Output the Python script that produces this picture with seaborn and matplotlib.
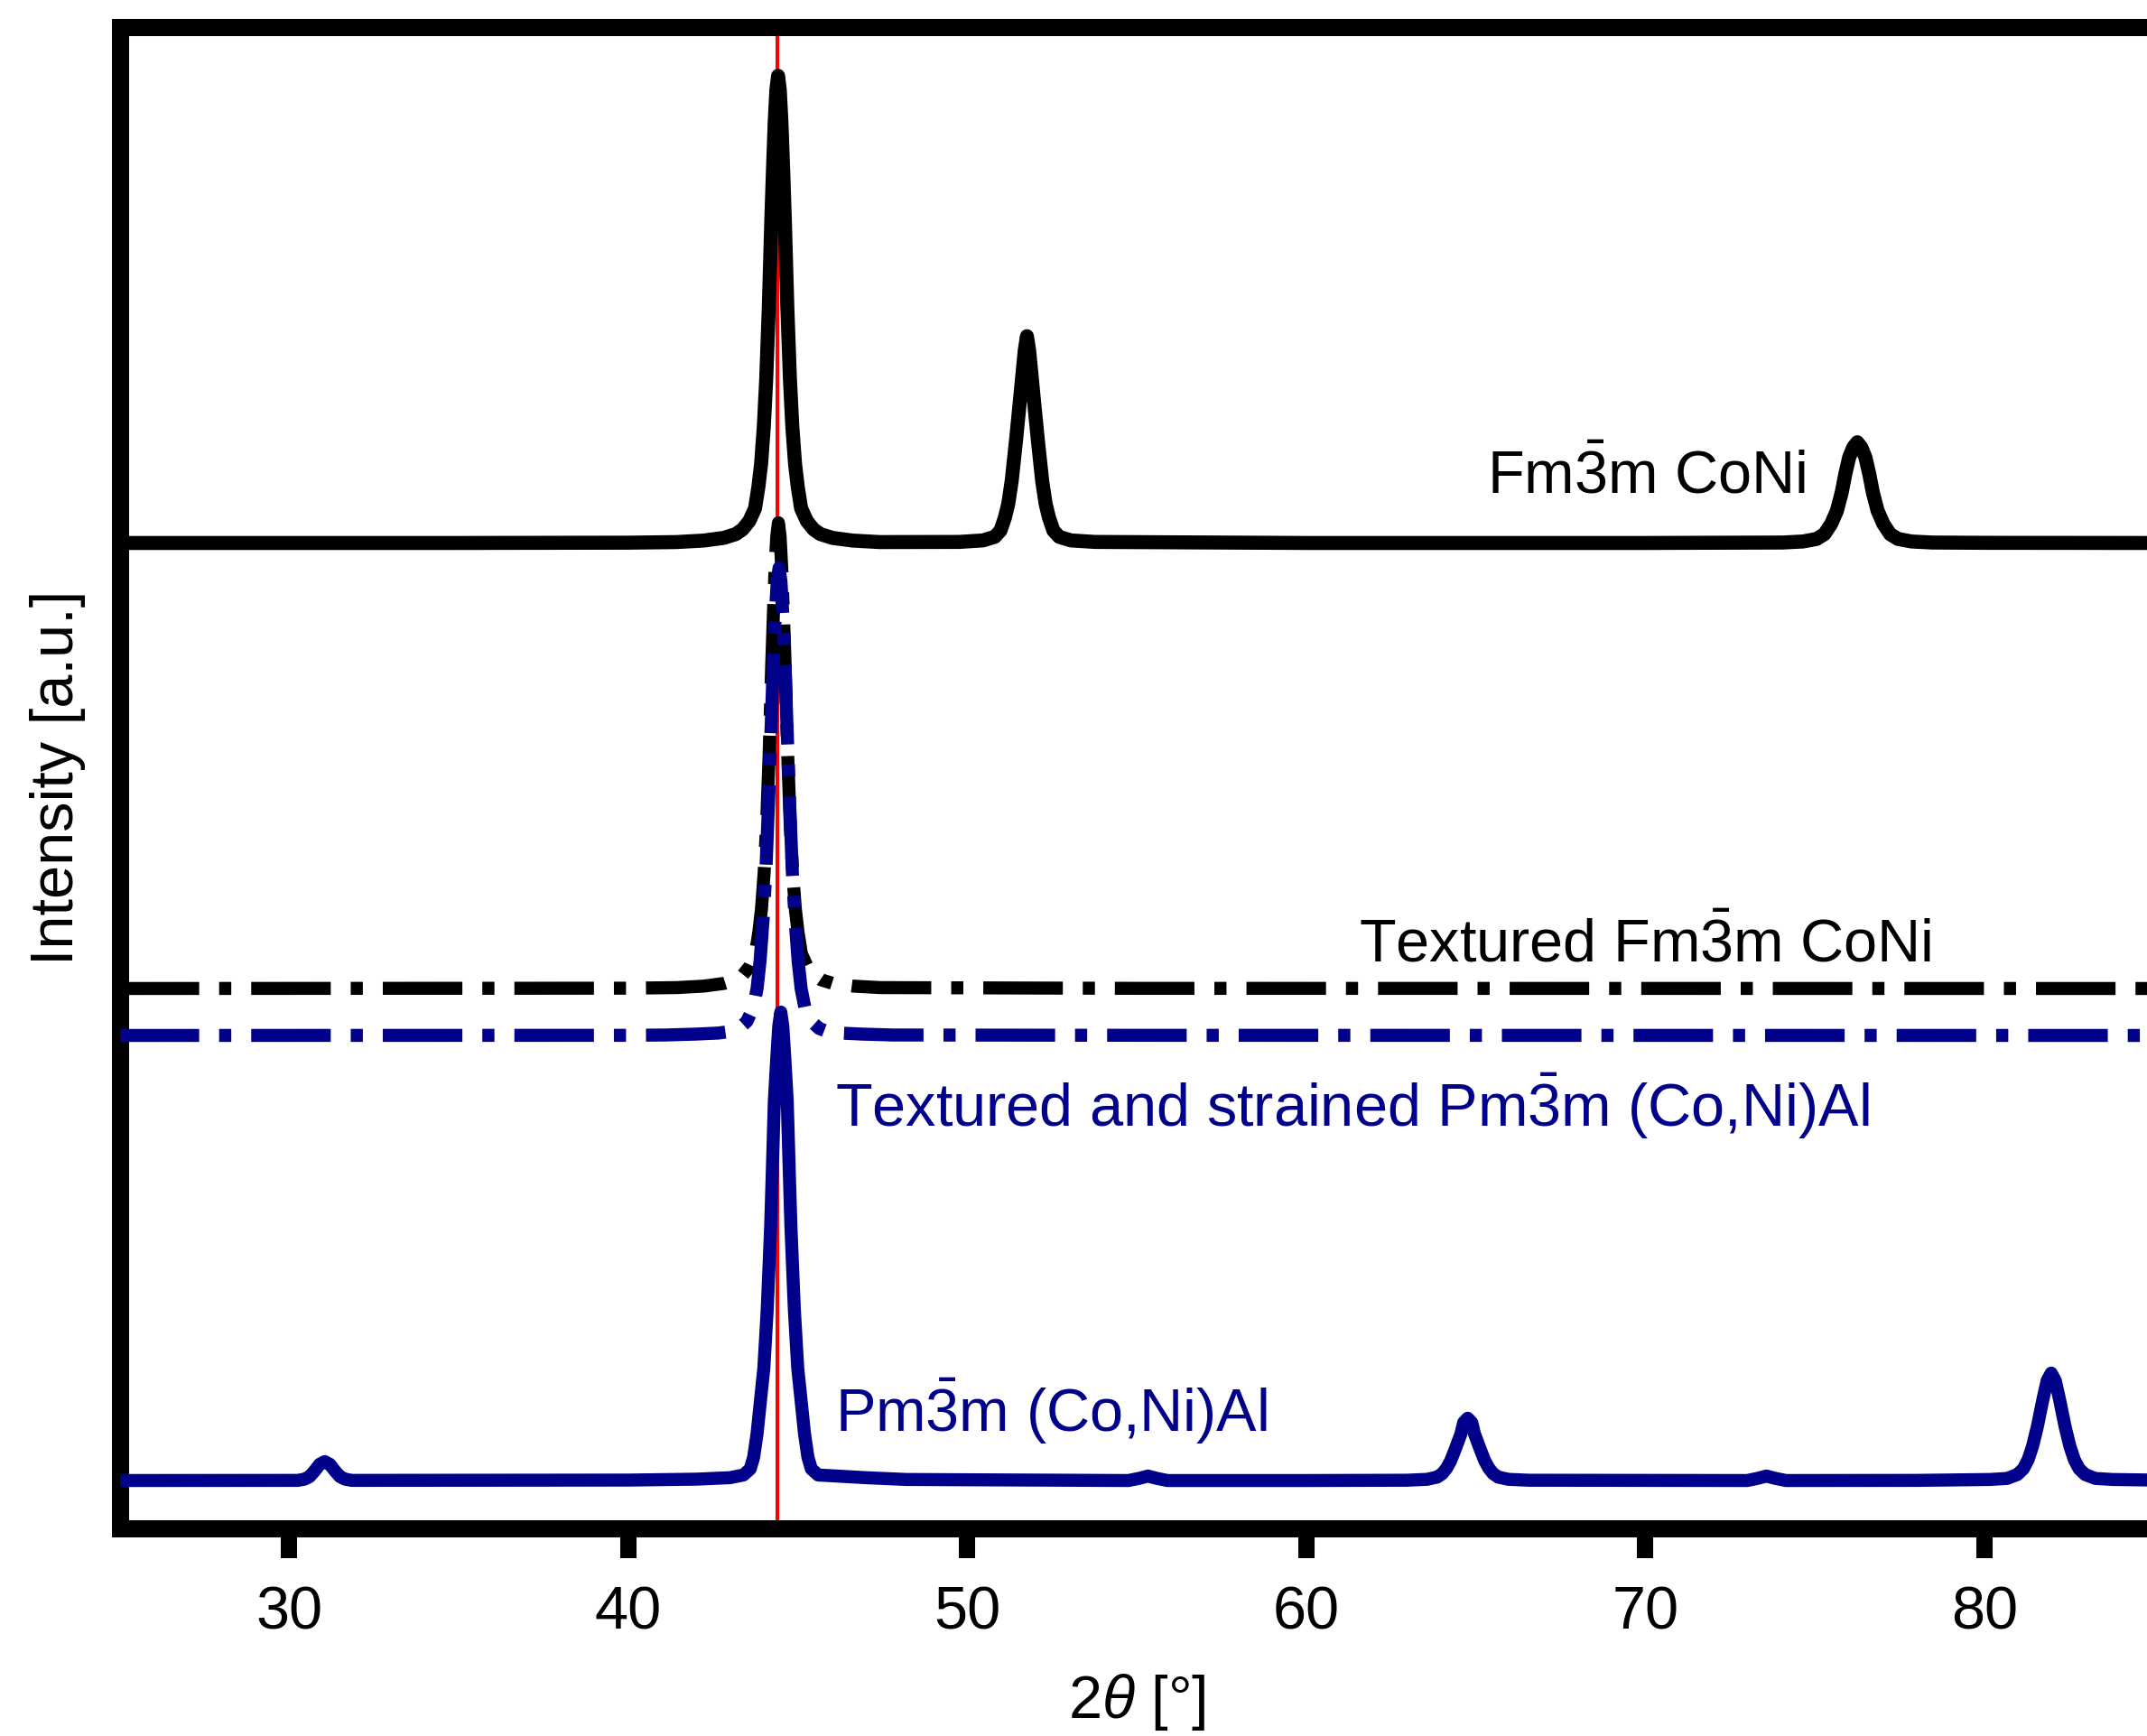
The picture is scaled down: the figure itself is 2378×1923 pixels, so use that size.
import matplotlib
matplotlib.use("Agg")
import matplotlib.pyplot as plt
import seaborn as sns

# ---- diffraction patterns: 2theta (deg) vs stacked intensity (a.u.) ----
# Fm-3m CoNi
coni_x = [25, 35, 40,
          41.42, 42.22, 42.82, 43.17, 43.37, 43.57, 43.74, 43.84, 43.92, 44.00, 44.07,
          44.145, 44.22, 44.27, 44.32, 44.37, 44.42, 44.47, 44.52, 44.57, 44.62, 44.695,
          44.77, 44.84, 44.92, 45.00, 45.10, 45.27, 45.47, 45.67, 46.02, 46.62, 47.42,
          49.76, 50.46, 50.81, 50.98, 51.11, 51.21, 51.31, 51.44, 51.56, 51.63, 51.695,
          51.76, 51.825, 51.89, 51.96, 52.08, 52.21, 52.31, 52.41, 52.54, 52.71, 53.06,
          53.76, 60, 70,
          74.05, 74.65, 75.05, 75.28, 75.48, 75.65, 75.79, 75.90, 76.01, 76.13, 76.25,
          76.37, 76.49, 76.60, 76.71, 76.85, 77.02, 77.22, 77.45, 77.85, 78.45,
          80, 85]
coni_y = [65.65, 65.65, 65.67,
          65.71, 65.81, 65.99, 66.24, 66.55, 67.11, 67.95, 69.39, 70.94, 73.43, 76.55,
          81.22, 87.13, 90.55, 93.67, 95.85, 96.78, 95.85, 93.67, 90.55, 87.13, 81.22,
          76.55, 73.43, 70.94, 69.39, 67.95, 67.11, 66.55, 66.24, 65.99, 65.81, 65.71,
          65.72, 65.82, 66.06, 66.48, 67.34, 68.27, 69.78, 72.54, 75.30, 76.95, 78.47,
          79.43, 78.47, 76.95, 75.30, 72.54, 69.78, 68.27, 67.34, 66.48, 66.06, 65.82,
          65.72, 65.65, 65.65,
          65.68, 65.75, 65.92, 66.24, 66.92, 67.80, 69.01, 70.28, 71.35, 72.02, 72.36,
          72.02, 71.35, 70.28, 69.01, 67.80, 66.92, 66.24, 65.92, 65.75, 65.68,
          65.66, 65.65]

# Textured Fm-3m CoNi
tex_coni_x = [25, 40,
              41.43, 42.23, 42.83, 43.18, 43.38, 43.58, 43.75, 43.85, 43.93, 44.01, 44.08,
              44.155, 44.23, 44.28, 44.33, 44.38, 44.43, 44.48, 44.53, 44.58, 44.63,
              44.705, 44.78, 44.85, 44.93, 45.01, 45.11, 45.28, 45.48, 45.68, 46.03,
              46.63, 47.43,
              55, 85]
tex_coni_y = [35.96, 35.98,
              36.02, 36.12, 36.30, 36.55, 36.86, 37.42, 38.26, 39.68, 41.24, 43.72, 46.82,
              51.48, 57.38, 60.79, 63.90, 66.07, 67.00, 66.07, 63.90, 60.79, 57.38,
              51.48, 46.82, 43.72, 41.24, 39.68, 38.26, 37.42, 36.86, 36.55, 36.30,
              36.12, 36.02,
              35.97, 35.96]

# Textured and strained Pm-3m (Co,Ni)Al
tex_cnal_x = [25, 40,
              41.09, 41.99, 42.66, 43.05, 43.27, 43.50, 43.69, 43.80, 43.89, 43.98, 44.06,
              44.14, 44.23, 44.28, 44.34, 44.394, 44.45, 44.506, 44.56, 44.62, 44.67,
              44.76, 44.84, 44.92, 45.01, 45.10, 45.21, 45.40, 45.63, 45.85, 46.24,
              46.91, 47.81,
              55, 85]
tex_cnal_y = [32.83, 32.84,
              32.86, 32.92, 32.99, 33.11, 33.30, 33.77, 34.70, 35.95, 37.82, 40.62, 43.74,
              48.42, 54.34, 57.77, 60.88, 63.06, 64.00, 63.06, 60.88, 57.77, 54.34,
              48.42, 43.74, 40.62, 37.82, 35.95, 34.70, 33.77, 33.30, 33.11, 32.99,
              32.92, 32.86,
              32.84, 32.83]

# Pm-3m (Co,Ni)Al
cnal_x = [25,
          30.25, 30.45, 30.6, 30.75, 30.9, 31.05, 31.2, 31.35, 31.5, 31.65, 31.85,
          40, 42.0, 43.0, 43.4, 43.6, 43.7, 43.8, 43.9, 44.0, 44.1, 44.2, 44.25, 44.31,
          44.38, 44.44, 44.50, 44.56, 44.62, 44.69, 44.75, 44.8, 44.9, 45.0, 45.1, 45.2,
          45.3, 45.4, 45.6, 47.0, 48.2, 52,
          54.75, 55.08, 55.33, 55.58, 55.9,
          60, 62.96, 63.56, 63.86, 64.01, 64.14, 64.26, 64.39, 64.56, 64.64, 64.76,
          64.88, 64.96, 65.13, 65.26, 65.38, 65.51, 65.66, 65.96, 66.56,
          73.0, 73.32, 73.57, 73.82, 74.15,
          78, 80.17, 80.67, 80.97, 81.15, 81.29, 81.42, 81.56, 81.725, 81.85, 81.97,
          82.09, 82.215, 82.38, 82.52, 82.65, 82.79, 82.97, 83.27, 83.77, 85]
cnal_y = [3.17,
          3.18, 3.26, 3.43, 3.81, 4.25, 4.43, 4.25, 3.81, 3.43, 3.26, 3.18,
          3.20, 3.26, 3.36, 3.54, 3.95, 4.73, 6.29, 8.48, 10.66, 14.57, 20.03, 23.78, 28.46,
          31.27, 33.45, 34.39, 33.45, 31.27, 28.46, 23.78, 20.03, 14.57, 10.66, 8.48, 6.29,
          4.73, 3.95, 3.54, 3.36, 3.24, 3.20,
          3.17, 3.32, 3.47, 3.32, 3.17,
          3.17, 3.19, 3.25, 3.40, 3.63, 4.00, 4.50, 5.25, 6.28, 7.03, 7.32,
          7.03, 6.28, 5.25, 4.50, 4.00, 3.63, 3.40, 3.25, 3.19,
          3.17, 3.32, 3.47, 3.32, 3.17,
          3.18, 3.24, 3.31, 3.57, 3.96, 4.57, 5.46, 6.75, 8.58, 9.83, 10.33,
          9.83, 8.58, 6.75, 5.46, 4.57, 3.96, 3.57, 3.31, 3.24, 3.20]

ref_position = 44.40
x_ticks = [30, 40, 50, 60, 70, 80]

labels = [r"Fm$\bar{3}$m CoNi",
          r"Textured Fm$\bar{3}$m CoNi",
          r"Textured and strained Pm$\bar{3}$m (Co,Ni)Al",
          r"Pm$\bar{3}$m (Co,Ni)Al"]
label_x = [65.33, 61.55, 46.09, 46.11]
label_y = [68.94, 37.76, 26.73, 6.44]

BLUE = "#00008b"
label_colors = ["black", "black", BLUE, BLUE]

# ---- style ----
sns.set_style("white")
plt.rcParams["font.family"] = ["Liberation Sans", "DejaVu Sans"]
plt.rcParams["mathtext.fontset"] = "custom"
plt.rcParams["mathtext.rm"] = "Liberation Sans"
plt.rcParams["mathtext.it"] = "Liberation Sans:italic"
plt.rcParams["mathtext.bf"] = "Liberation Sans:bold"
plt.rcParams["text.color"] = "black"
plt.rcParams["axes.labelcolor"] = "black"
plt.rcParams["xtick.color"] = "black"
plt.rcParams["xtick.labelcolor"] = "black"

fig = plt.figure(figsize=(23.78, 19.23), dpi=100)
ax = fig.add_axes([0.05572, 0.11976, 0.94752, 0.86438])

ax.axvline(ref_position, color="#ff0000", linewidth=2.9, zorder=1)

dashdot = (0, (6.1, 1.53, 0.93, 1.53))
sns.lineplot(x=coni_x, y=coni_y, ax=ax, color="black", linewidth=11.2,
             sort=False, estimator=None, zorder=3)
sns.lineplot(x=tex_coni_x, y=tex_coni_y, ax=ax, color="black", linewidth=10.4,
             linestyle=dashdot, sort=False, estimator=None, zorder=3)
sns.lineplot(x=tex_cnal_x, y=tex_cnal_y, ax=ax, color=BLUE, linewidth=10.4,
             linestyle=dashdot, sort=False, estimator=None, zorder=4)
sns.lineplot(x=cnal_x, y=cnal_y, ax=ax, color=BLUE, linewidth=10.4,
             sort=False, estimator=None, zorder=4)

for txt, tx, ty, c in zip(labels, label_x, label_y, label_colors):
    ax.text(tx, ty, txt, color=c, fontsize=48, ha="left", va="baseline", zorder=5)

ax.set_xlim(25, 85)
ax.set_ylim(0, 100)
ax.set_xticks(x_ticks)
ax.set_xticklabels([str(t) for t in x_ticks])
ax.set_yticks([])
ax.tick_params(axis="x", direction="out", length=24, width=13, labelsize=48,
               pad=22, color="black", labelcolor="black", bottom=True)
for side in ["left", "right", "top", "bottom"]:
    ax.spines[side].set_linewidth(13.7)
    ax.spines[side].set_color("black")
    ax.spines[side].set_visible(True)

ax.set_xlabel(r"2$\it{\theta}$ [°]", fontsize=48, labelpad=24)
ax.set_ylabel("Intensity [a.u.]", fontsize=48)
ax.yaxis.set_label_coords(-0.0166, 0.5)

fig.savefig("out.png", dpi=100)
